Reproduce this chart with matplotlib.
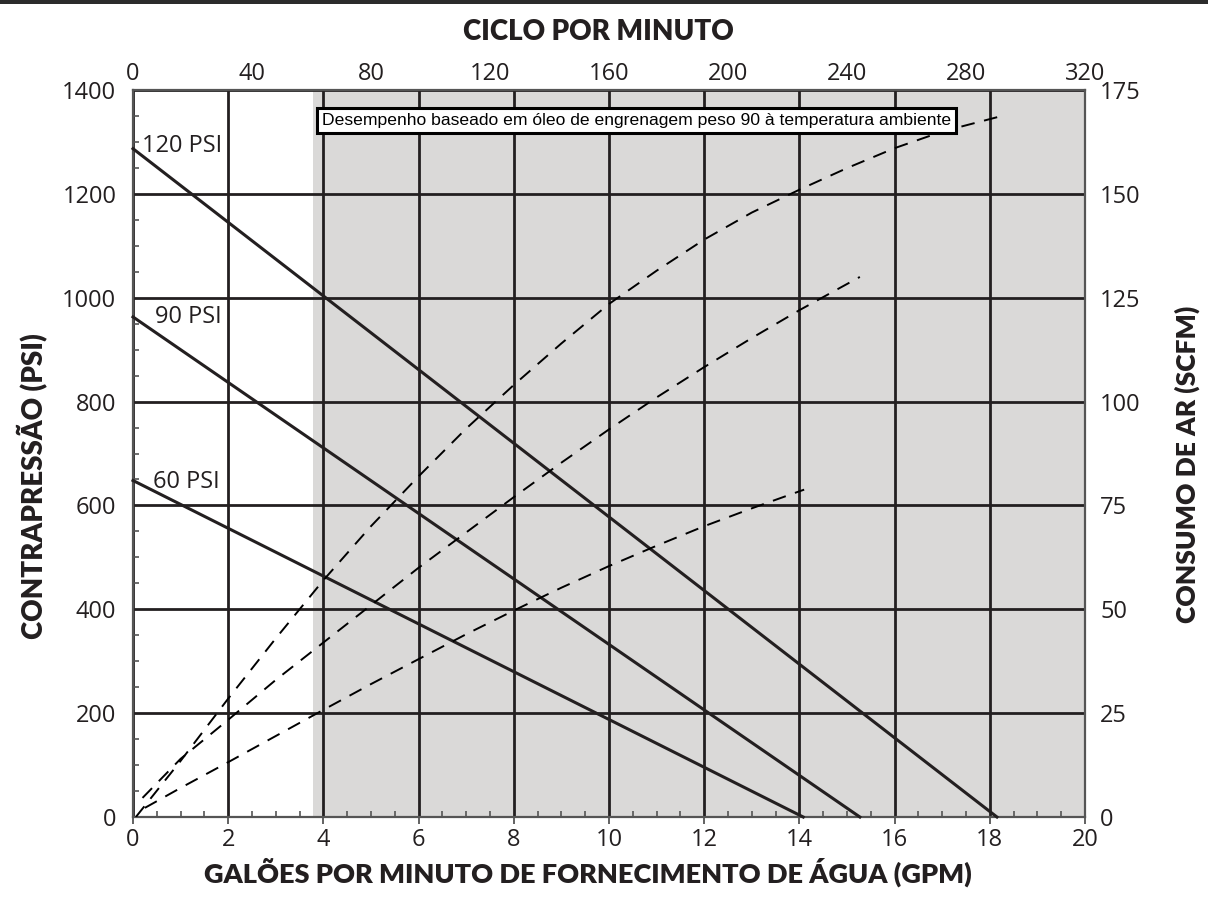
# pump performance chart - back pressure / air consumption vs water delivery

import matplotlib.pyplot as plt
from matplotlib.patches import Rectangle
from matplotlib.ticker import MultipleLocator
import numpy as np

# solid lines: back pressure (PSI) at each air inlet pressure, straight from y-intercept to x-intercept
air_pressures = ["120 PSI", "90 PSI", "60 PSI"]
psi_start = [1287, 963, 648]
gpm_end = [18.15, 15.27, 14.08]

# dashed lines: air consumption (SCFM) vs GPM
air_120_gpm = [0.06, 1, 2, 3, 4, 5, 6, 7, 8, 9, 10, 11, 12, 13, 14, 15, 16, 17, 18.17]
air_120_scfm = [0, 13.5, 28.5, 43, 57, 70, 82, 93.5, 104, 114, 123.5, 131.5, 139, 145.5, 151, 156.2, 161, 165, 168.5]
air_90_gpm = [0.2, 1, 2, 3, 4, 5, 6, 7, 8, 9, 10, 11, 12, 13, 14, 15.27]
air_90_scfm = [4.6, 14, 23.4, 33, 42, 51, 60, 68.5, 77, 85.3, 93.3, 101, 108.3, 115.3, 122, 130]
air_60_gpm = [0.25, 1, 2, 3, 4, 5, 6, 7, 8, 9, 10, 11, 12, 13, 14, 14.1]
air_60_scfm = [2.2, 7, 13.2, 19.5, 25.8, 32, 38, 44, 49.7, 55.2, 60.4, 65.3, 70, 74.3, 78.4, 78.8]

shade_from = 3.78  # GPM where grey zone starts
note = "Desempenho baseado em óleo de engrenagem peso 90 à temperatura ambiente"

dark = '#231f20'
plt.rcParams['font.family'] = ['Open Sans', 'DejaVu Sans']

fig = plt.figure(figsize=(12.08, 9.10), dpi=100)
ax = fig.add_axes([133/1208, 1-817/910, (1085-133)/1208, (817-90)/910])

ax.set_xlim(0, 20)
ax.set_ylim(0, 1400)
ax.axvspan(shade_from, 20, color='#dad9d8', lw=0, zorder=0)

ax.xaxis.set_major_locator(MultipleLocator(2))
ax.xaxis.set_minor_locator(MultipleLocator(0.5))
ax.yaxis.set_major_locator(MultipleLocator(200))
ax.yaxis.set_minor_locator(MultipleLocator(50))
ax.grid(True, which='major', color=dark, lw=2)

ax.tick_params(axis='x', which='major', direction='out', length=5, width=1.3,
               color='#555555', labelsize=17, pad=3, labelcolor=dark)
ax.tick_params(axis='x', which='minor', direction='in', length=4, width=1.2, color='#555555')
ax.tick_params(axis='y', which='major', length=0, labelsize=17, pad=12, labelcolor=dark)
ax.tick_params(axis='y', which='minor', direction='in', length=4.5, width=1.2, color='#555555')
for s in ax.spines.values():
    s.set_color('#555555')
    s.set_linewidth(1.6)

# solid back pressure lines
for name, p0, g1 in zip(air_pressures, psi_start, gpm_end):
    ax.plot([0, g1], [p0, 0], color=dark, lw=2.2, zorder=3, clip_on=False)
ax.text(0.18, 1293, air_pressures[0], fontsize=17, va='center', ha='left', color=dark, zorder=4)
ax.text(0.46, 963, air_pressures[1], fontsize=17, va='center', ha='left', color=dark, zorder=4)
ax.text(0.42, 645, air_pressures[2], fontsize=17, va='center', ha='left', color=dark, zorder=4)

# right axis: air consumption
ax2 = ax.twinx()
ax2.set_ylim(0, 175)
ax2.yaxis.set_major_locator(MultipleLocator(25))
ax2.tick_params(axis='y', length=0, labelsize=17, pad=11, labelcolor=dark)
for s in ax2.spines.values():
    s.set_visible(False)
dash = (0, (7, 5))
for g, c in [(air_120_gpm, air_120_scfm), (air_90_gpm, air_90_scfm), (air_60_gpm, air_60_scfm)]:
    ax2.plot(g, c, color='black', lw=1.4, ls=dash, zorder=3)

# note box sits on top of the 120 PSI air curve
ax2.text(3.97, 167.6, note, fontsize=12.6, family='Liberation Sans', va='center', ha='left',
         color='black', zorder=6,
         bbox=dict(boxstyle='square,pad=0.3', facecolor='white', edgecolor='black', lw=2.2))

# top axis: cycles per minute
ax3 = ax.twiny()
ax3.set_xlim(0, 320)
ax3.xaxis.set_major_locator(MultipleLocator(40))
ax3.tick_params(axis='x', length=0, labelsize=17, pad=3, labelcolor=dark)
for s in ax3.spines.values():
    s.set_visible(False)

# axis titles
title_kw = dict(fontweight='heavy', family='Lato', color=dark, va='center', ha='center')
fig.text(598/1208, 1-32/910, 'CICLO POR MINUTO', fontsize=20, **title_kw)
fig.text(588/1208, 1-872/910, 'GALÕES POR MINUTO DE FORNECIMENTO DE ÁGUA (GPM)', fontsize=19.5, **title_kw)
fig.text(33/1208, 1-486/910, 'CONTRAPRESSÃO (PSI)', rotation=90, fontsize=20, **title_kw)
fig.text(1187/1208, 1-464/910, 'CONSUMO DE AR (SCFM)', rotation=90, fontsize=19, **title_kw)

# dark strip across the top edge
fig.add_artist(Rectangle((0, 1-4/910), 1, 4/910, transform=fig.transFigure, color='#2b2b2b', lw=0))

fig.patch.set_facecolor('white')
fig.savefig('out.png', dpi=100)
